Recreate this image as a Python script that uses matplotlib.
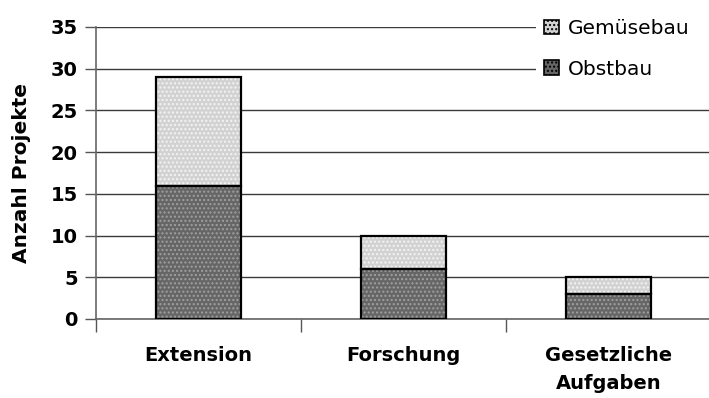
import matplotlib
matplotlib.use("Agg")
import matplotlib.pyplot as plt
from matplotlib.patches import Patch
import numpy as np

plt.rcParams['font.family'] = ['DejaVu Sans']

categories = ["Extension", "Forschung", "Gesetzliche\nAufgaben"]
obstbau = [16, 6, 3]
gemuesebau = [13, 4, 2]
yticks = [0, 5, 10, 15, 20, 25, 30, 35]

W, H = 709, 398
fig = plt.figure(figsize=(W / 100, H / 100), dpi=100)
ax = fig.add_axes([96 / W, 1 - 319 / H, 615 / W, 292 / H])

x = np.arange(len(categories))
width = 0.41

light_face = "#d2d2d2"
light_dot = "#f4f4f4"
dark_face = "#666666"
dark_dot = "#a0a0a0"

# filled, dotted segments
ax.bar(x, obstbau, width, color=dark_face, hatch="....", edgecolor=dark_dot,
       linewidth=0, zorder=3)
ax.bar(x, gemuesebau, width, bottom=obstbau, color=light_face, hatch="....",
       edgecolor=light_dot, linewidth=0, zorder=3)
# black outlines
ax.bar(x, obstbau, width, fill=False, edgecolor="black", linewidth=1.6, zorder=4)
ax.bar(x, gemuesebau, width, bottom=obstbau, fill=False, edgecolor="black",
       linewidth=1.6, zorder=4)

ax.set_xlim(-0.5, len(categories) - 0.5)
ax.set_ylim(0, 35)
ax.set_yticks(yticks)
ax.set_yticklabels([str(v) for v in yticks], fontsize=14, fontweight="bold")
ax.yaxis.grid(True, color="#3a3a3a", linewidth=1.0, zorder=0)
ax.set_axisbelow(True)

ax.set_xticks(x)
ax.set_xticklabels(categories, fontsize=14, fontweight="bold", linespacing=1.6)
ax.tick_params(axis="x", which="major", length=0, pad=19.5)
ax.set_xticks(np.arange(len(categories) + 1) - 0.5, minor=True)
ax.tick_params(axis="x", which="minor", length=9, width=1, color="#555555",
               direction="out")
ax.tick_params(axis="y", length=8, width=1, color="#555555", pad=5)

for s in ("top", "right"):
    ax.spines[s].set_visible(False)
for s in ("left", "bottom"):
    ax.spines[s].set_color("#666666")
    ax.spines[s].set_linewidth(1.2)

ax.set_ylabel("Anzahl Projekte", fontsize=14.5, fontweight="bold", labelpad=14)

handles = [
    Patch(facecolor=light_face, edgecolor="black", hatch="....", linewidth=1.2,
          label="Gemüsebau"),
    Patch(facecolor=dark_face, edgecolor="black", hatch="....", linewidth=1.2,
          label="Obstbau"),
]
leg = fig.legend(handles=handles, loc="upper left", mode="expand",
                 bbox_to_anchor=(536 / W, 1 - 11 / H, (W - 536) / W, 0),
                 frameon=True, fontsize=14.5, handlelength=0.75,
                 handleheight=0.75, handletextpad=0.45, labelspacing=1.08,
                 borderpad=0.4, borderaxespad=0)
leg.get_frame().set_facecolor("white")
leg.get_frame().set_edgecolor("none")
leg.get_frame().set_alpha(1)

fig.savefig("out.png", dpi=100)
